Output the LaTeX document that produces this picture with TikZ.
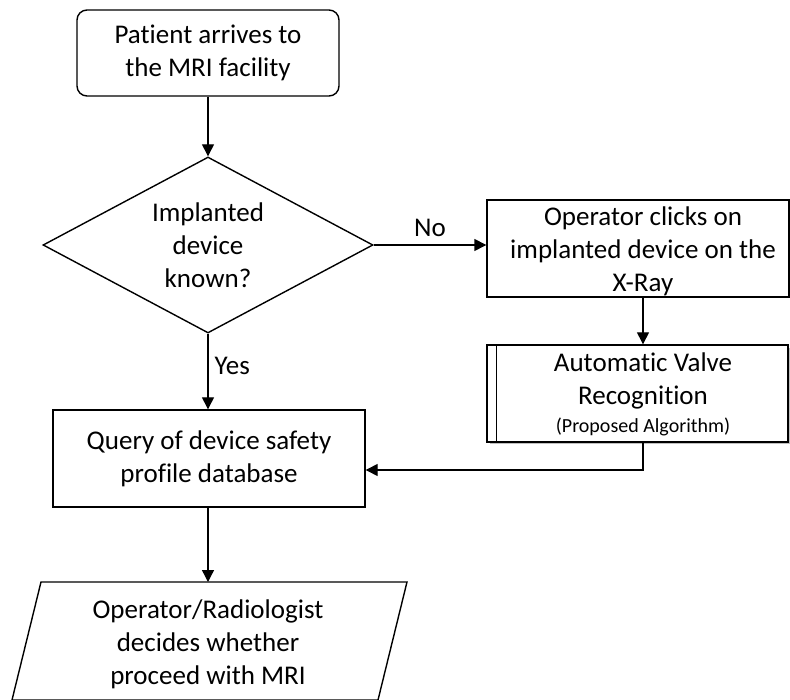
\documentclass[tikz,border=0pt]{standalone}
\usepackage{fontspec}
\setmainfont{Carlito}[Ligatures={NoCommon}]
\usetikzlibrary{arrows.meta,shapes.geometric}
\begin{document}
\begin{tikzpicture}[x=1pt,y=-1pt,
  line width=1.4pt,
  every node/.style={font=\fontsize{27}{33}\selectfont, align=center, inner sep=0pt},
  boxstyle/.style={draw, rectangle},
  arr/.style={-{Triangle[length=12pt,width=12pt]}},
  lbl/.style={font=\fontsize{27}{33}\selectfont}
]
\useasboundingbox (0,0) rectangle (790,700);
\clip (0,0) rectangle (790,700);
% start
\node[boxstyle, rounded corners=10pt, minimum width=262pt, minimum height=86pt] (start) at (208,53) {Patient arrives to\\the MRI facility};
% decision
\node[draw, diamond, minimum width=330pt, minimum height=176pt] (dec) at (208,245) {};
\node (dect) at (208,245) {Implanted\\device\\known?};
% operator box
\node[boxstyle, minimum width=302pt, minimum height=97pt] (op) at (638,248.5) {};
\node (opt) at (643,251) {Operator clicks on\\implanted device on the\\X-Ray};
% predefined process
\fill[black!25] (490,348) rectangle (791,444);
\node[boxstyle, minimum width=301pt, minimum height=97pt, fill=white] (avr) at (637.5,393.5) {};
\draw ([xshift=10pt]avr.north west) -- ([xshift=10pt]avr.south west);
\node (avrt) at (643,394) {Automatic Valve\\Recognition\\[-5pt]{\fontsize{20}{24}\selectfont (Proposed Algorithm)}};
% query
\node[boxstyle, minimum width=312pt, minimum height=97pt] (query) at (209,458.5) {Query of device safety\\profile database};
% parallelogram
\coordinate (ptop) at (208,582);
\draw (41,582) -- (407,582) -- (378,700) -- (12,700) -- cycle;
\node (par) at (208,644) {Operator/Radiologist\\decides whether\\proceed with MRI};
% connectors
\draw[arr] (start.south) -- (dec.north);
\draw[arr] (dec.east) -- (dec.east -| op.west) node[lbl, midway, above=8pt] (no) {No};
\draw[arr] (op.south -| avrt) -- (avr.north -| avrt);
\draw[arr] (dec.south) -- (query.north -| dec.south) node[lbl, pos=0.42, right=6pt] (yes) {Yes};
\coordinate (bend) at (avr.south -| avrt);
\draw[arr] (bend) |- ([yshift=-11.5pt]query.east);
\draw[arr] (query.south -| ptop) -- (ptop);
\end{tikzpicture}
\end{document}
